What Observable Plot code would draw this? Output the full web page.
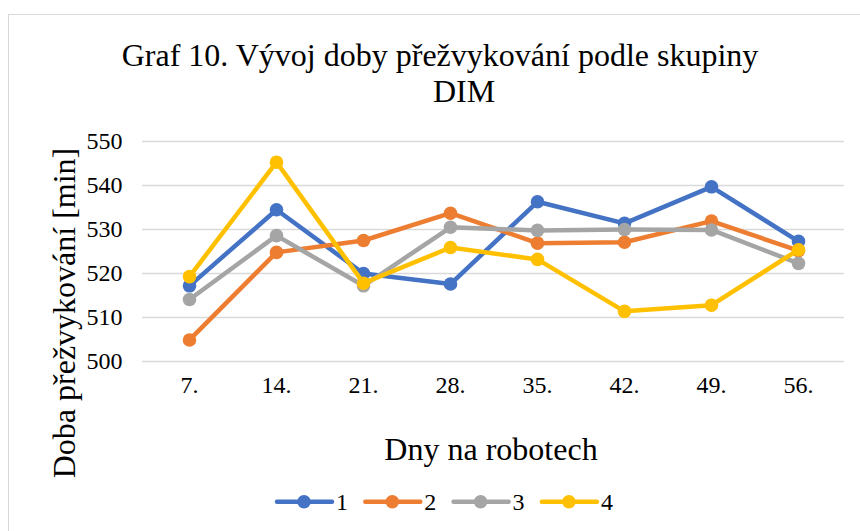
<!DOCTYPE html>
<html>
<head>
<meta charset="utf-8">
<script src="https://cdn.jsdelivr.net/npm/d3@7"></script>
<script src="https://cdn.jsdelivr.net/npm/@observablehq/plot@0.6"></script>
<style>
  html, body { margin: 0; padding: 0; background: #fff; }
  #wrap { position: relative; width: 860px; height: 531px; overflow: hidden; background: #fff;
          font-family: "Liberation Serif", "Times New Roman", serif; color: #000; }
  #border { position: absolute; left: 8px; top: 14px; width: 900px; height: 600px;
            border: 1.5px solid #d9d9d9; box-sizing: border-box; }
  #chart { position: absolute; left: 0; top: 0; }
  #chart svg text, #legend svg text { font-family: "Liberation Serif", "Times New Roman", serif !important; }
  .t { position: absolute; white-space: nowrap; text-align: center; }
  #title1 { left: 0; width: 880px; top: 37px; font-size: 32px; line-height: 36px; }
  #title2 { left: 24px; width: 880px; top: 73px; font-size: 32px; line-height: 36px; }
  #xtitle { left: 291px; width: 400px; top: 431px; font-size: 32px; line-height: 36px; }
  #ytitle { left: -136px; width: 400px; top: 295px; font-size: 32px; line-height: 36px;
            transform: rotate(-90deg); transform-origin: 200px 18px; }
  #legend { position: absolute; left: 0; top: 480px; }
</style>
</head>
<body>
<div id="wrap">
  <div id="border"></div>
  <div id="chart"></div>
  <div id="title1" class="t">Graf 10. Vývoj doby přežvykování podle skupiny</div>
  <div id="title2" class="t">DIM</div>
  <div id="xtitle" class="t">Dny na robotech</div>
  <div id="ytitle" class="t">Doba přežvykování [min]</div>
  <div id="legend"></div>
</div>
<script>
// ---- data ----
const days = ["7.", "14.", "21.", "28.", "35.", "42.", "49.", "56."];
const seriesNames = ["1", "2", "3", "4"];
const seriesColors = ["#4472C4", "#ED7D31", "#A5A5A5", "#FFC000"];
const group1 = [517.2, 534.5, 520.0, 517.6, 536.3, 531.4, 539.7, 527.3];
const group2 = [504.9, 524.8, 527.5, 533.7, 526.9, 527.1, 531.9, 525.2];
const group3 = [514.1, 528.6, 517.2, 530.5, 529.8, 530.0, 529.9, 522.3];
const group4 = [519.3, 545.3, 517.8, 525.9, 523.2, 511.4, 512.8, 525.4];
const yTicks = [500, 510, 520, 530, 540, 550];

const allSeries = [group1, group2, group3, group4];
const rows = allSeries.flatMap((vals, si) =>
  vals.map((v, i) => ({day: days[i], value: v, group: seriesNames[si]})));

const font = '"Liberation Serif", "Times New Roman", serif';

const marks = [
  Plot.gridY(yTicks, {stroke: "#d9d9d9", strokeOpacity: 1, strokeWidth: 1.5}),
  Plot.axisY(yTicks, {tickSize: 0, tickPadding: 20, fontSize: 24, fontFamily: font, fill: "#000", label: null}),
  Plot.axisX({tickSize: 0, tickPadding: 14, fontSize: 24, fontFamily: font, fill: "#000", label: null})
];
seriesNames.forEach((name, si) => {
  const data = rows.filter(d => d.group === name);
  marks.push(Plot.line(data, {x: "day", y: "value", stroke: seriesColors[si], strokeWidth: 4.5,
                               strokeLinejoin: "round", strokeLinecap: "round"}));
  marks.push(Plot.dot(data, {x: "day", y: "value", r: 6.8, fill: seriesColors[si], stroke: "none"}));
});

const chart = Plot.plot({
  width: 860,
  height: 531,
  marginLeft: 142,
  marginRight: 16,
  marginTop: 141,
  marginBottom: 170,
  style: {background: "transparent", fontFamily: font},
  x: {type: "point", domain: days, padding: 0.5, label: null},
  y: {domain: [500, 550], label: null},
  marks
});
document.getElementById("chart").appendChild(chart);

// ---- legend ----
const lg = d3.select("#legend").append("svg").attr("width", 860).attr("height", 45);
seriesNames.forEach((name, i) => {
  const x0 = 277 + i * 88.3;
  const g = lg.append("g").attr("transform", `translate(${x0},0)`);
  g.append("line").attr("x1", 0).attr("x2", 55).attr("y1", 21.7).attr("y2", 21.7)
    .attr("stroke", seriesColors[i]).attr("stroke-width", 4.5).attr("stroke-linecap", "round");
  g.append("circle").attr("cx", 27).attr("cy", 21.7).attr("r", 6.8).attr("fill", seriesColors[i]);
  g.append("text").attr("x", 59).attr("y", 30).attr("font-size", 24).attr("font-family", font)
    .attr("fill", "#000").text(name);
});
</script>
</body>
</html>
